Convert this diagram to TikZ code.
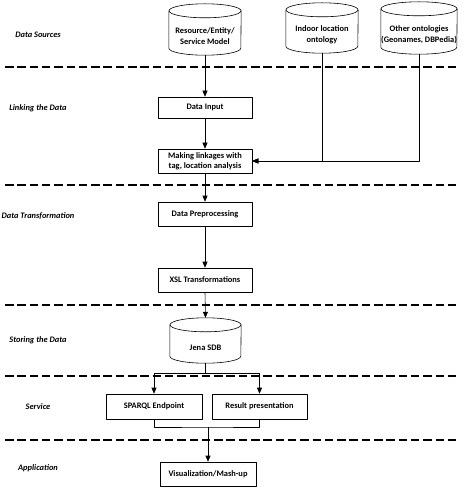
\documentclass[tikz,border=0pt]{standalone}
\usepackage{fontspec}
\setmainfont{Carlito}
\usetikzlibrary{positioning}
\usetikzlibrary{arrows.meta}

\tikzset{
  stagebox/.style={draw, line width=0.6pt, minimum width=94pt, minimum height=24pt,
    inner sep=1pt, align=center, font=\fontsize{8.4}{10}\selectfont\bfseries},
  storebox/.style={inner sep=0pt, align=center, font=\fontsize{8.4}{11}\selectfont\bfseries},
  storeline/.style={line width=0.6pt},
  layer/.style={font=\fontsize{8.4}{10}\selectfont\bfseries\itshape},
  divider/.style={line width=1.2pt, dash pattern=on 8.5pt off 3.8pt},
  flow/.style={line width=0.6pt, -{Triangle[length=6pt,width=5pt]}},
}

% database drum: name, x, y, width, body height, text
\newcommand{\storenode}[6]{%
	\node[storebox, minimum width=#4, minimum height=#5] (#1) at (#2,#3) {#6};
	\draw[storeline] ([yshift=7pt]#1.north) ellipse [x radius=#4/2, y radius=7pt];
	\draw[storeline] ([yshift=7pt]#1.north west) -- ([yshift=7pt]#1.south west)
		arc [start angle=180, end angle=360, x radius=#4/2, y radius=7pt]
		-- ([yshift=7pt]#1.north east);
}

\begin{document}
\begin{tikzpicture}[x=1pt,y=-1pt,line join=round]
	\useasboundingbox (0,0) rectangle (465,497);
	
	% data sources
	\storenode{model}{205}{36.5}{72pt}{37pt}{Resource/Entity/\\Service Model}
	\storenode{indoor}{322}{35}{72pt}{36pt}{Indoor location\\ontology}
	\storenode{other}{419}{35}{76pt}{38pt}{Other ontologies\\(Geonames, DBPedia)}
	
	% linking
	\node[stagebox, minimum height=21pt] (input) at (205,107.5) {Data Input};
	\node[stagebox] (linkage) at (205,161) {Making linkages with\\tag, location analysis};
	
	% transformation
	\node[stagebox] (prep) at (205,214) {Data Preprocessing};
	\node[stagebox] (xsl) at (205,280) {XSL Transformations};
	
	% storing
	\storenode{jena}{205.5}{347.5}{71pt}{31pt}{Jena SDB}
	
	% service and application
	\node[stagebox, minimum width=96pt, minimum height=25pt] (sparql) at (154,406.5) {SPARQL Endpoint};
	\node[stagebox, minimum width=95pt, minimum height=25pt] (result) at (259.5,406.5) {Result presentation};
	\node[stagebox, minimum width=96pt] (vis) at (208,474) {Visualization/Mash-up};
	
	\coordinate (split) at (205.5,373);
	\coordinate (merge) at (208,427);
	
	% layer names
	\node[layer] (l1) at (38,35) {Data Sources};
	\node[layer] (l2) at (38,108) {Linking the Data};
	\node[layer] (l3) at (38,216) {Data Transformation};
	\node[layer] (l4) at (38,340) {Storing the Data};
	\node[layer] (l5) at (38,407) {Service};
	\node[layer] (l6) at (38,468) {Application};
	
	% layer borders
	\foreach \y in {67,185,305,376,440}
		\draw[divider] (5,\y) -- (460,\y);
	
	% connectors
	\draw[flow] (model.south) -- (input.north);
	\draw[flow] (input.south) -- (linkage.north);
	\draw[flow] (indoor.south) |- (linkage.east);
	\draw[flow] (other.south) |- (linkage.east);
	\draw[flow] (linkage.south) -- (prep.north);
	\draw[flow] (prep.south) -- (xsl.north);
	\draw[flow] (xsl.south) -- ([yshift=14pt]jena.north);
	\draw[line width=0.6pt] (jena.south) -- (split);
	\draw[flow] (split) -| (sparql.north);
	\draw[flow] (split) -| (result.north);
	\draw[line width=0.6pt] (sparql.south) |- (merge) -| (result.south);
	\draw[flow] (merge) -- (vis.north);
\end{tikzpicture}
\end{document}
